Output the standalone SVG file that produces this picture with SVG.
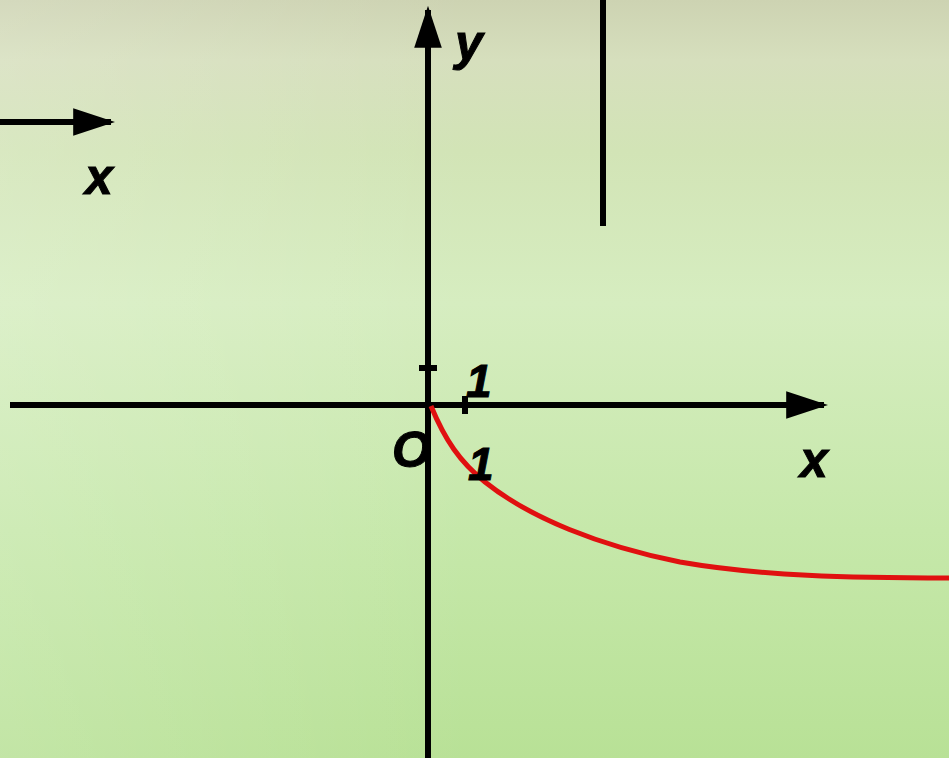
<svg xmlns="http://www.w3.org/2000/svg" width="949" height="758" viewBox="0 0 949 758">
<defs>
<linearGradient id="bg" x1="0" y1="0" x2="0" y2="1">
<stop offset="0" stop-color="#cdd3b2"/>
<stop offset="0.08" stop-color="#d6dfbd"/>
<stop offset="0.2" stop-color="#d2e4b6"/>
<stop offset="0.4" stop-color="#d6edc0"/>
<stop offset="0.7" stop-color="#c6e8aa"/>
<stop offset="1" stop-color="#b8e196"/>
</linearGradient>
<linearGradient id="side" x1="0" y1="0" x2="1" y2="0">
<stop offset="0" stop-color="#ffffff" stop-opacity="0.15"/>
<stop offset="0.5" stop-color="#ffffff" stop-opacity="0"/>
<stop offset="1" stop-color="#ffffff" stop-opacity="0"/>
</linearGradient>
<marker id="ah" viewBox="0 0 10 10" refX="9" refY="5" markerWidth="7" markerHeight="4.6" markerUnits="strokeWidth" orient="auto" preserveAspectRatio="none">
<path d="M0,0 L10,5 L0,10 Z" fill="#000"/>
</marker>
</defs>
<style>
.ax{stroke:#000;stroke-width:6;fill:none}
.lb{font-family:"Liberation Sans",Arial,sans-serif;font-weight:bold;font-style:italic;fill:#000;stroke:#000;stroke-width:1}
</style>
<rect width="949" height="758" fill="url(#bg)"/>
<rect width="949" height="758" fill="url(#side)"/>
<g id="connectors">
<line id="yaxis" class="ax" x1="428" y1="758" x2="428" y2="10" marker-end="url(#ah)"/>
<line id="xaxis" class="ax" x1="10" y1="405" x2="824" y2="405" marker-end="url(#ah)"/>
<line id="leftarrow" class="ax" x1="0" y1="122" x2="111" y2="122" marker-end="url(#ah)"/>
<line id="vline" class="ax" x1="603" y1="0" x2="603" y2="226"/>
<line id="ytick" class="ax" x1="419" y1="368" x2="437" y2="368" stroke-width="5"/>
<line id="xtick" class="ax" x1="465" y1="396" x2="465" y2="414" stroke-width="5"/>
<path id="curve" d="M431,406 C445,440 460,462 485,482 C530,518 600,546 680,562 C760,576 850,578 949,578" fill="none" stroke="#e01010" stroke-width="5"/>
</g>
<g id="labels">
<text class="lb" x="455" y="60" font-size="50">y</text>
<text class="lb" x="85" y="194" font-size="50">x</text>
<text class="lb" x="800" y="477" font-size="50">x</text>
<text class="lb" x="392" y="467" font-size="50">O</text>
<text class="lb" x="466" y="397" font-size="46">1</text>
<text class="lb" x="468" y="480" font-size="46">1</text>
</g>
</svg>
